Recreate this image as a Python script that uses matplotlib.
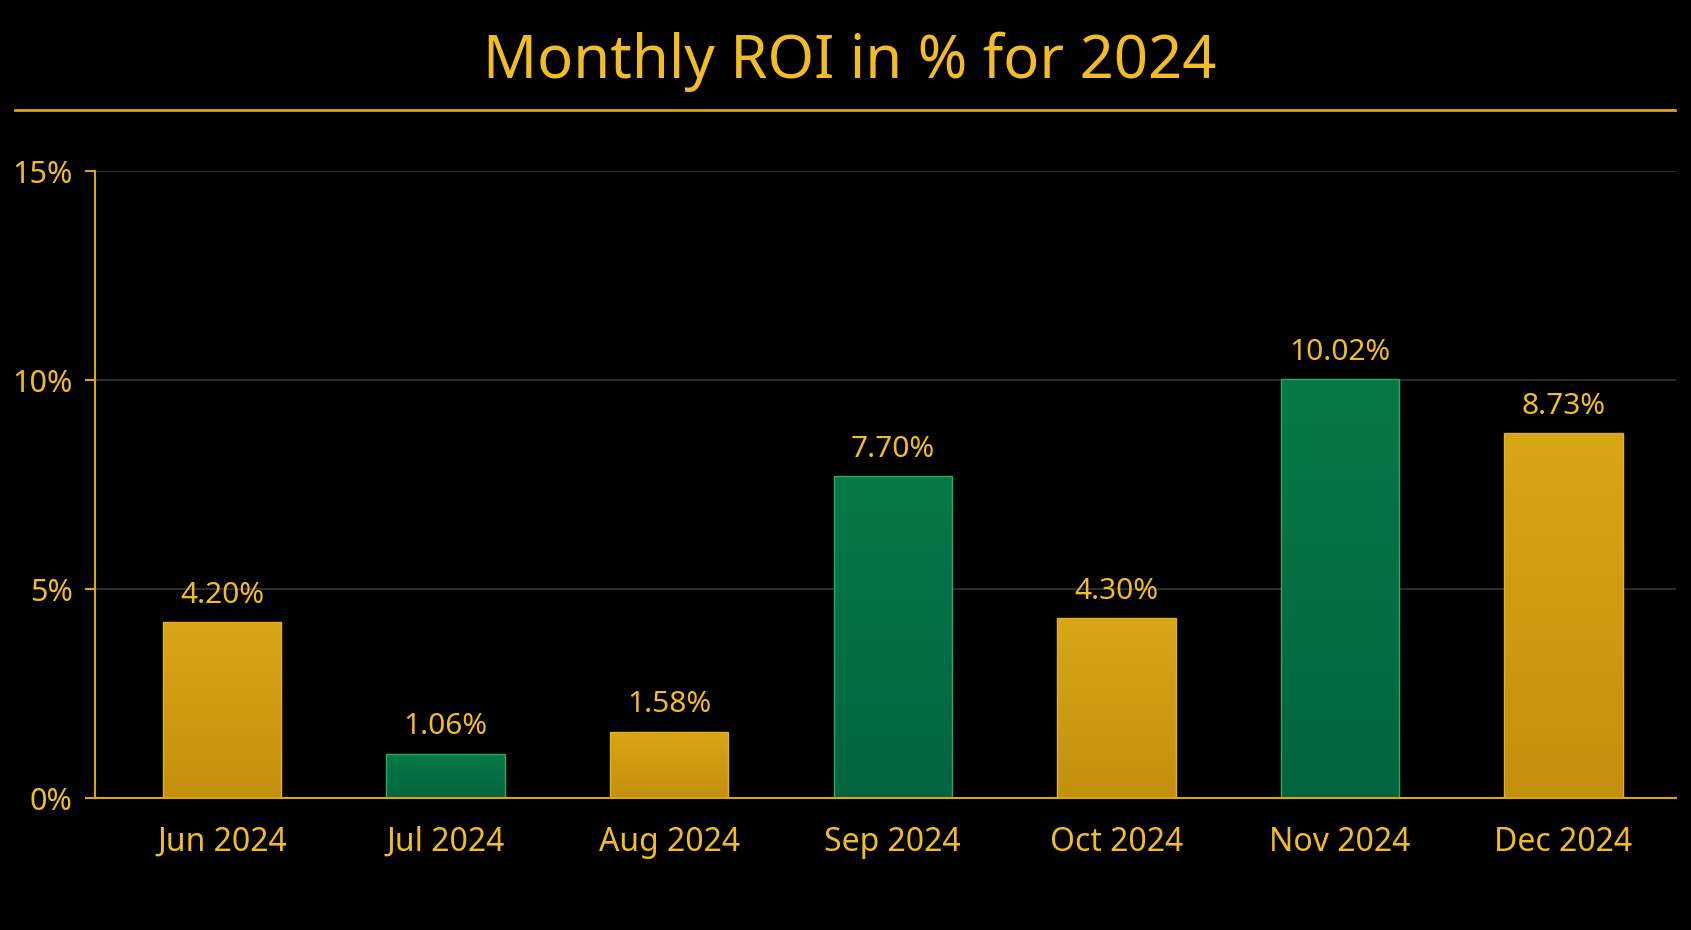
import numpy as np
import matplotlib
matplotlib.use("Agg")
import matplotlib.pyplot as plt
from matplotlib.colors import LinearSegmentedColormap
from matplotlib.lines import Line2D

# data
months = ["Jun 2024", "Jul 2024", "Aug 2024", "Sep 2024", "Oct 2024", "Nov 2024", "Dec 2024"]
roi = [4.20, 1.06, 1.58, 7.70, 4.30, 10.02, 8.73]
bar_kind = ["gold", "green", "gold", "green", "gold", "green", "gold"]

gold_text = "#F2BC25"
gold_line = "#D9A515"
grads = {
    "gold": (["#C48F0B", "#D9A617"], "#E2B020"),
    "green": (["#03653F", "#057A46"], "#2FA866"),
}

plt.rcParams['font.family'] = ['Noto Sans', 'DejaVu Sans']

fig = plt.figure(figsize=(16.91, 9.30), dpi=100, facecolor="black")
ax = fig.add_axes([0.0562, 0.1419, 0.9349, 0.6742])
ax.set_facecolor("black")

x = np.arange(len(months))
width = 0.53
bars = ax.bar(x, roi, width=width, color="none", zorder=3)

# gradient fill for each bar
grad = np.linspace(0, 1, 256).reshape(-1, 1)
for b, kind in zip(bars, bar_kind):
    cols, edge = grads[kind]
    cmap = LinearSegmentedColormap.from_list(kind, cols)
    x0, h = b.get_x(), b.get_height()
    im = ax.imshow(grad, cmap=cmap, origin="lower", aspect="auto",
                   extent=(x0, x0 + width, 0, h), zorder=2)
    im.set_clip_path(b)
    b.set_edgecolor(edge)
    b.set_linewidth(1.0)

for xi, v in zip(x, roi):
    ax.annotate(f"{v:.2f}%", (xi, v), xytext=(0, 9), textcoords="offset points",
                ha="center", va="bottom", color=gold_text, fontsize=21.5)

ax.set_xlim(-0.568, 6.503)
ax.set_ylim(0, 15)
ax.set_yticks([0, 5, 10, 15])
ax.set_yticklabels(["0%", "5%", "10%", "15%"])
ax.set_xticks(x)
ax.set_xticklabels(months)

ax.grid(axis="y", color="#2c2c2c", linewidth=1.5, zorder=0)
ax.set_axisbelow(True)

for s in ["top", "right"]:
    ax.spines[s].set_visible(False)
for s in ["left", "bottom"]:
    ax.spines[s].set_color(gold_line)
    ax.spines[s].set_linewidth(1.5)
ax.spines["bottom"].set_zorder(4)

ax.tick_params(axis="y", colors=gold_line, labelcolor=gold_text, labelsize=22,
               length=7, width=1.5, pad=9)
ax.tick_params(axis="x", length=0, labelcolor=gold_text, labelsize=23, pad=20)

fig.text(0.5025, 1 - 78 / 930, "Monthly ROI in % for 2024", ha="center", va="baseline",
         color=gold_text, fontsize=43)
fig.add_artist(Line2D([15 / 1691, 1675 / 1691], [1 - 110 / 930] * 2,
                      color=gold_line, linewidth=2, transform=fig.transFigure))

fig.savefig("out.png", dpi=100, facecolor="black")
